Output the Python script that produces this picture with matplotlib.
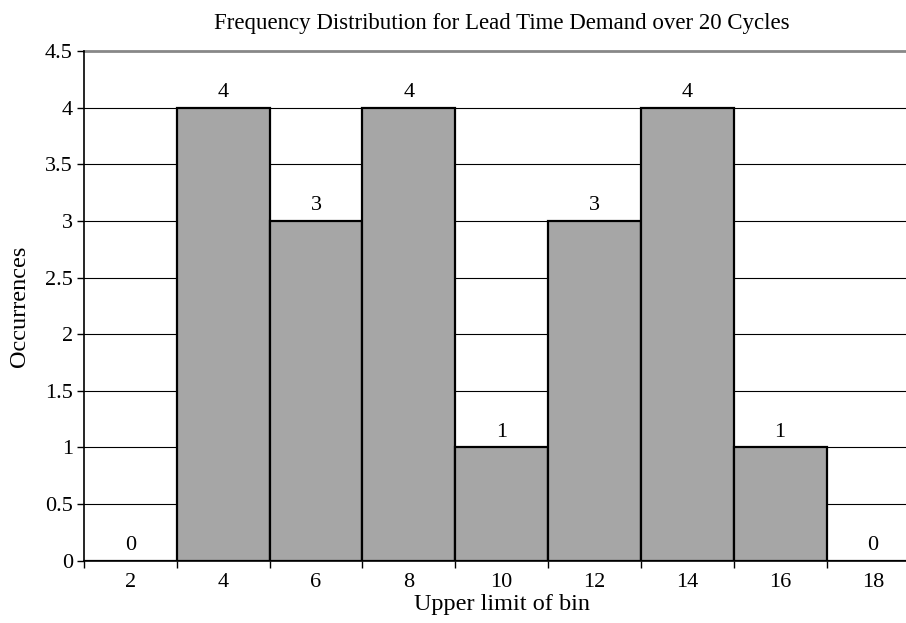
import numpy as np
import matplotlib
matplotlib.use("Agg")
import matplotlib.pyplot as plt

# data
bins = ['2', '4', '6', '8', '10', '12', '14', '16', '18']
counts = [0, 4, 3, 4, 1, 3, 4, 1, 0]

plt.rcParams['font.family'] = ['Liberation Serif', 'DejaVu Serif']
plt.rcParams['font.size'] = 16

fig = plt.figure(figsize=(9.06, 6.23), dpi=100)
ax = fig.add_axes([0.0927, 0.1, 0.922, 0.818])

x = np.arange(len(bins))
ax.bar(x, counts, width=1.0, color='#a6a6a6', edgecolor='black', linewidth=1.6, zorder=3)

for xi, c in zip(x, counts):
    ax.annotate(str(c), (xi, c), xytext=(0, 4), textcoords='offset points',
                ha='center', va='bottom', fontsize=16)

ax.set_xlim(-0.5, len(bins) - 0.5)
ax.set_ylim(0, 4.5)
ax.set_yticks(np.arange(0, 4.51, 0.5))
ax.set_yticklabels(['0', '0.5', '1', '1.5', '2', '2.5', '3', '3.5', '4', '4.5'])
ax.set_xticks(x)
ax.set_xticklabels(bins)
ax.set_xticks(np.arange(-0.5, len(bins), 1.0), minor=True)
ax.tick_params(axis='x', which='major', length=0, pad=9, labelsize=16)
ax.tick_params(axis='x', which='minor', length=5, direction='out', width=1)
ax.tick_params(axis='y', length=5, direction='out', width=1, pad=3, labelsize=16)

for yv in np.arange(0.5, 4.01, 0.5):
    ax.axhline(yv, color='black', linewidth=0.8, zorder=1)
ax.axhline(4.5, color='#888888', linewidth=2, zorder=1, clip_on=False)

for s in ['top', 'right']:
    ax.spines[s].set_visible(False)
ax.spines['left'].set_linewidth(1.2)
ax.spines['bottom'].set_linewidth(1.2)

ax.set_title('Frequency Distribution for Lead Time Demand over 20 Cycles', pad=16, fontsize=16.5)
ax.set_xlabel('Upper limit of bin', fontsize=17.5, labelpad=1)
ax.set_ylabel('Occurrences', fontsize=17.5, labelpad=11)

fig.savefig('out.png', dpi=100)
